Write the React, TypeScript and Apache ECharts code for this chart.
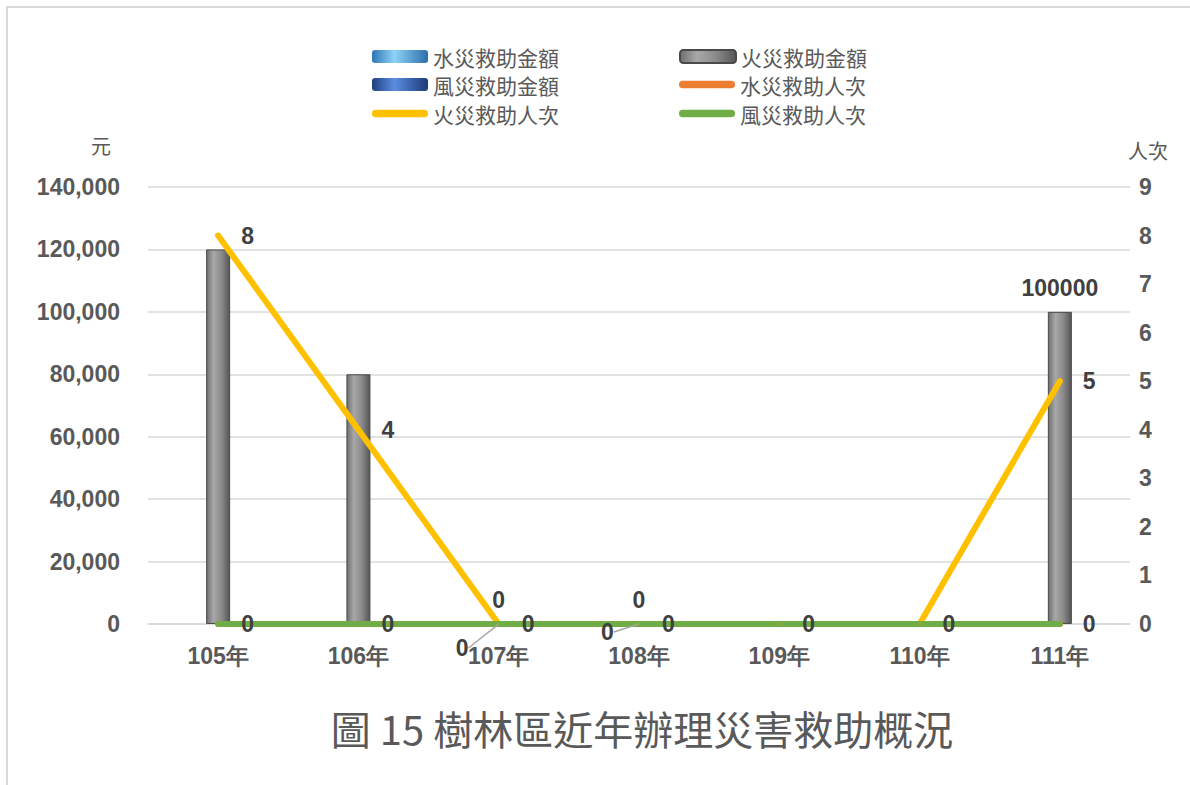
import React, { useEffect, useRef } from "react";
import * as echarts from "echarts";

const categories = ["105年", "106年", "107年", "108年", "109年", "110年", "111年"];
const waterAmount = [0, 0, 0, 0, 0, 0, 0];
const fireAmount = [120000, 80000, 0, 0, 0, 0, 100000];
const windAmount = [0, 0, 0, 0, 0, 0, 0];
const waterPeople = [0, 0, 0, 0, 0, 0, 0];
const firePeople = [8, 4, 0, 0, 0, 0, 5];
const windPeople = [0, 0, 0, 0, 0, 0, 0];
const fireAmountLabelShown = [false, false, true, true, false, false, true];
const firePeopleLabelShown = [true, true, true, true, false, false, true];
const firePeopleLabelMoved = [false, false, true, true, false, false, false];
const seriesNames = ["水災救助金額", "火災救助金額", "風災救助金額", "水災救助人次", "火災救助人次", "風災救助人次"];
const leftAxisName = "元";
const rightAxisName = "人次";
const titleText = "圖 15 樹林區近年辦理災害救助概況";

const FONT_NUM = "'Liberation Sans', Arial, sans-serif";
const FONT_CJK = "'Noto Sans CJK TC', 'Noto Sans', sans-serif";
const TXT = "#595959";
const LBL = "#404040";

const grad = (stops: [number, string][]) =>
  new echarts.graphic.LinearGradient(0, 0, 1, 0, stops.map(([offset, color]) => ({ offset, color })));

const grayGrad = () => grad([[0, "#6f6f6f"], [0.3, "#a8a8a8"], [0.65, "#8a8a8a"], [1, "#555555"]]);
const lightBlueGrad = () => grad([[0, "#2e75b6"], [0.4, "#8fd3f7"], [1, "#2a6ead"]]);
const darkBlueGrad = () => grad([[0, "#1f3f80"], [0.4, "#5b8de0"], [1, "#1c3a78"]]);

const lineIcon = "path://M4,0 H56 A4,4 0 0 1 56,8 H4 A4,4 0 0 1 4,0 Z";

export default function App() {
  const ref = useRef<HTMLDivElement>(null);
  useEffect(() => {
    if (!ref.current) return;
    const chart = echarts.init(ref.current, undefined, { renderer: "svg" });

    const legendBase = {
      orient: "horizontal" as const,
      left: 367,
      itemWidth: 56,
      itemHeight: 13,
      itemGap: 120,
      textStyle: { fontSize: 21, color: TXT, fontFamily: FONT_CJK },
      selectedMode: false,
    };

    const option: any = {
      animation: false,
      backgroundColor: "#ffffff",
      title: {
        text: titleText,
        left: 637,
        top: 703,
        textAlign: "center",
        textStyle: { fontSize: 40, fontWeight: "normal", color: TXT, fontFamily: FONT_CJK },
      },
      legend: [
        { ...legendBase, top: 41, data: [seriesNames[0], seriesNames[1]] },
        { ...legendBase, top: 69, data: [seriesNames[2], { name: seriesNames[3], icon: lineIcon }] },
        { ...legendBase, top: 98, data: [{ name: seriesNames[4], icon: lineIcon }, { name: seriesNames[5], icon: lineIcon }] },
      ],
      graphic: [
        {
          type: "rect",
          z: -10,
          shape: { x: 7, y: 7, width: 1200, height: 800 },
          style: { fill: "none", stroke: "#d9d9d9", lineWidth: 2 },
          silent: true,
        },
        {
          type: "text",
          x: 101,
          y: 145,
          style: { text: leftAxisName, fontSize: 20, fill: TXT, fontFamily: FONT_CJK, align: "center", verticalAlign: "middle" },
        },
        {
          type: "text",
          x: 1148,
          y: 150,
          style: { text: rightAxisName, fontSize: 20, fill: TXT, fontFamily: FONT_CJK, align: "center", verticalAlign: "middle" },
        },
      ],
      grid: { left: 148, right: 60, top: 187, bottom: 161, containLabel: false },
      xAxis: {
        type: "category",
        data: categories,
        axisLine: { show: true, lineStyle: { color: "#d9d9d9", width: 1.5 } },
        axisTick: { show: false },
        axisLabel: { margin: 20, fontSize: 23, fontWeight: "bold", color: TXT, fontFamily: FONT_NUM },
      },
      yAxis: [
        {
          type: "value",
          min: 0,
          max: 140000,
          interval: 20000,
          axisLine: { show: false },
          axisTick: { show: false },
          splitLine: { lineStyle: { color: "#d9d9d9", width: 1.5 } },
          axisLabel: {
            margin: 28,
            fontSize: 23,
            fontWeight: "bold",
            color: TXT,
            fontFamily: FONT_NUM,
            formatter: (v: number) => v.toLocaleString("en-US"),
          },
        },
        {
          type: "value",
          min: 0,
          max: 9,
          interval: 1,
          position: "right",
          axisLine: { show: false },
          axisTick: { show: false },
          splitLine: { show: false },
          axisLabel: { margin: 9, fontSize: 23, fontWeight: "bold", color: TXT, fontFamily: FONT_NUM },
        },
      ],
      series: [
        {
          name: seriesNames[0],
          type: "bar",
          barWidth: 24,
          barGap: "0%",
          itemStyle: { color: lightBlueGrad() },
          data: waterAmount,
        },
        {
          name: seriesNames[1],
          type: "bar",
          barWidth: 24,
          barGap: "0%",
          itemStyle: { color: grayGrad(), borderColor: "#4a4a4a", borderWidth: 1 },
          label: {
            position: "top",
            distance: 12,
            fontSize: 23,
            fontWeight: "bold",
            color: LBL,
            fontFamily: FONT_NUM,
          },
          data: fireAmount.map((v, i) => ({ value: v, label: { show: fireAmountLabelShown[i] } })),
        },
        {
          name: seriesNames[2],
          type: "bar",
          barWidth: 24,
          barGap: "0%",
          itemStyle: { color: darkBlueGrad() },
          data: windAmount,
        },
        {
          name: seriesNames[3],
          type: "line",
          yAxisIndex: 1,
          symbol: "circle",
          symbolSize: 2,
          color: "#ed7d31",
          itemStyle: { color: "#ed7d31" },
          lineStyle: { color: "#ed7d31", width: 6, cap: "round" },
          data: waterPeople,
        },
        {
          name: seriesNames[4],
          type: "line",
          yAxisIndex: 1,
          symbol: "circle",
          symbolSize: 2,
          color: "#ffc000",
          itemStyle: { color: "#ffc000" },
          lineStyle: { color: "#ffc000", width: 6, cap: "round" },
          label: {
            position: "right",
            distance: 22,
            fontSize: 23,
            fontWeight: "bold",
            color: LBL,
            fontFamily: FONT_NUM,
          },
          labelLine: { lineStyle: { color: "#a6a6a6", width: 1.5 } },
          labelLayout: (p: any) => {
            if (p.dataIndex === 2) return { dx: -66, dy: 24 };
            if (p.dataIndex === 3) return { dx: -61, dy: 8 };
            return {};
          },
          data: firePeople.map((v, i) => ({
            value: v,
            label: { show: firePeopleLabelShown[i] },
            labelLine: { show: firePeopleLabelMoved[i], lineStyle: { color: "#a6a6a6", width: 1.5 } },
          })),
        },
        {
          name: seriesNames[5],
          type: "line",
          yAxisIndex: 1,
          symbol: "circle",
          symbolSize: 2,
          color: "#70ad47",
          itemStyle: { color: "#70ad47" },
          lineStyle: { color: "#70ad47", width: 6, cap: "round" },
          label: {
            show: true,
            position: "right",
            distance: 22,
            fontSize: 23,
            fontWeight: "bold",
            color: LBL,
            fontFamily: FONT_NUM,
          },
          data: windPeople,
        },
      ],
    };

    chart.setOption(option);
    return () => chart.dispose();
  }, []);

  return (
    <div
      ref={ref}
      style={{ position: "fixed", left: 0, top: 0, width: 1190, height: 785, background: "#fff" }}
    />
  );
}
